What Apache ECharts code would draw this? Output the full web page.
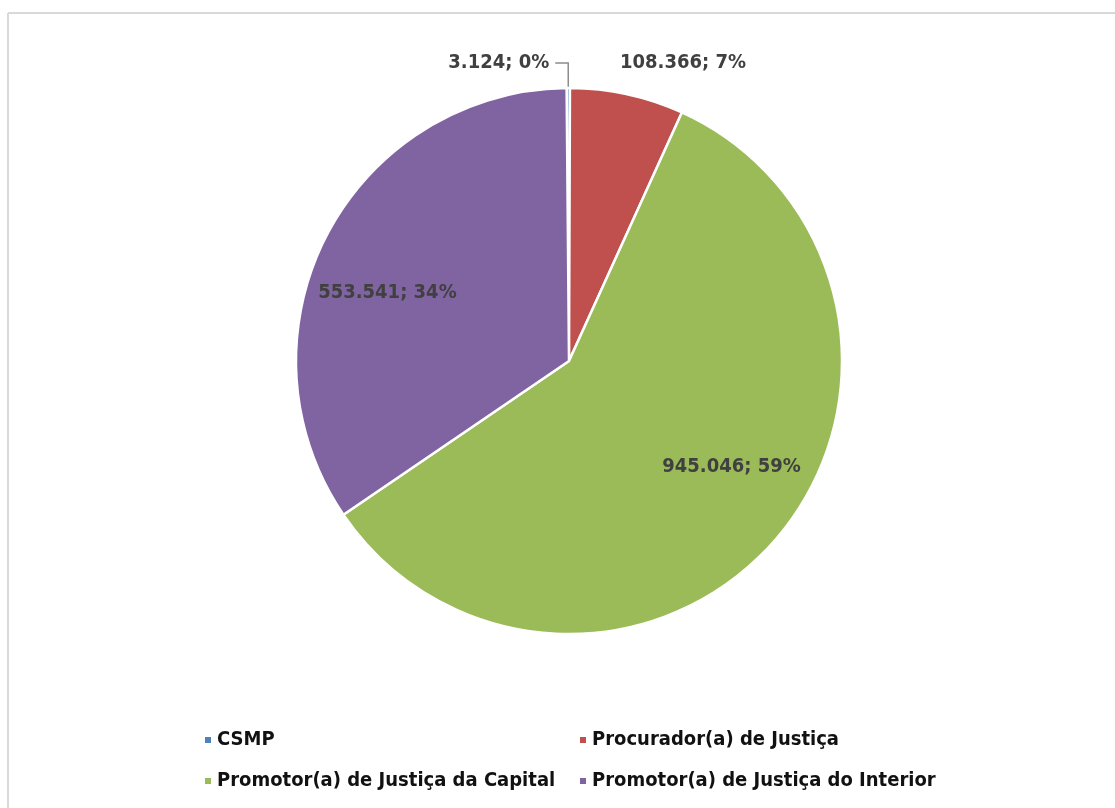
<!DOCTYPE html>
<html>
<head>
<meta charset="utf-8">
<script src="https://cdn.jsdelivr.net/npm/echarts@6/dist/echarts.min.js"></script>
<style>
html,body{margin:0;padding:0;background:#fff;}
#c{width:1115px;height:808px;}
</style>
</head>
<body>
<div id="c"></div>
<script>
const categories = ['CSMP', 'Procurador(a) de Justiça', 'Promotor(a) de Justiça da Capital', 'Promotor(a) de Justiça do Interior'];
const values = [3124, 108366, 945046, 553541];
const colors = ['#4F81BD', '#C0504D', '#9BBB59', '#8064A2'];
const legendCol1 = ['CSMP', 'Promotor(a) de Justiça da Capital'];
const legendCol2 = ['Procurador(a) de Justiça', 'Promotor(a) de Justiça do Interior'];

const FONT = '"DejaVu Sans Condensed", "Liberation Sans Narrow", sans-serif';
function fmt(v){ return String(v).replace(/\B(?=(\d{3})+(?!\d))/g, '.'); }
const labelFmt = p => fmt(p.value) + '; ' + p.percent + '%';
const labelStyle = { fontFamily: FONT, fontWeight: 'bold', fontSize: 20, color: '#404040', formatter: labelFmt };

const mainData = categories.map((n, i) => {
  const d = { name: n, value: values[i], itemStyle: { color: colors[i] } };
  if (i === 0) {
    d.label = Object.assign({ show: true, position: 'outside', padding: [0, 0, 10, 0], distanceToLabelLine: 6 }, labelStyle);
    d.labelLine = { show: true, length: 25, length2: 13, lineStyle: { color: '#8c8c8c', width: 1.5 } };
  } else if (i === 1) {
    d.label = Object.assign({ show: true, position: 'outside', distanceToLabelLine: -14 }, labelStyle);
    d.labelLine = { show: false, length: 32, length2: 0 };
  } else {
    d.label = { show: false };
  }
  return d;
});
const ghostData = categories.map((n, i) => ({
  name: n, value: values[i],
  itemStyle: { color: 'rgba(0,0,0,0)', borderWidth: 0 },
  label: (i >= 2) ? Object.assign({ show: true, position: 'inside' }, labelStyle) : { show: false }
}));

const legendText = { fontFamily: FONT, fontWeight: 'bold', fontSize: 20, lineHeight: 20, color: '#111' };

const chart = echarts.init(document.getElementById('c'), null, { renderer: 'canvas' });
chart.setOption({
  backgroundColor: '#fff',
  animation: false,
  graphic: [
    { type: 'line', shape: { x1: 8, y1: 13, x2: 1115, y2: 13 }, style: { stroke: '#d9d9d9', lineWidth: 2 } },
    { type: 'line', shape: { x1: 8, y1: 13, x2: 8, y2: 808 }, style: { stroke: '#d9d9d9', lineWidth: 2 } }
  ],
  legend: [
    { data: legendCol1, orient: 'vertical', left: 198, top: 725, itemWidth: 8, itemHeight: 8, itemGap: 21,
      icon: 'rect', textStyle: legendText },
    { data: legendCol2, orient: 'vertical', left: 573, top: 725, itemWidth: 8, itemHeight: 8, itemGap: 21,
      icon: 'rect', textStyle: legendText }
  ],
  series: [
    {
      type: 'pie', name: 'main', center: [569, 361], radius: [0, 273], startAngle: 90.5, clockwise: true,
      avoidLabelOverlap: false, percentPrecision: 0,
      itemStyle: { borderColor: '#fff', borderWidth: 2.5 },
      emphasis: { disabled: true },
      data: mainData
    },
    {
      type: 'pie', name: 'labels', center: [569, 361], radius: [0, 382], startAngle: 97.5, clockwise: true,
      avoidLabelOverlap: false, percentPrecision: 0, silent: true,
      emphasis: { disabled: true }, tooltip: { show: false },
      labelLine: { show: false },
      data: ghostData
    }
  ]
});
</script>
</body>
</html>
